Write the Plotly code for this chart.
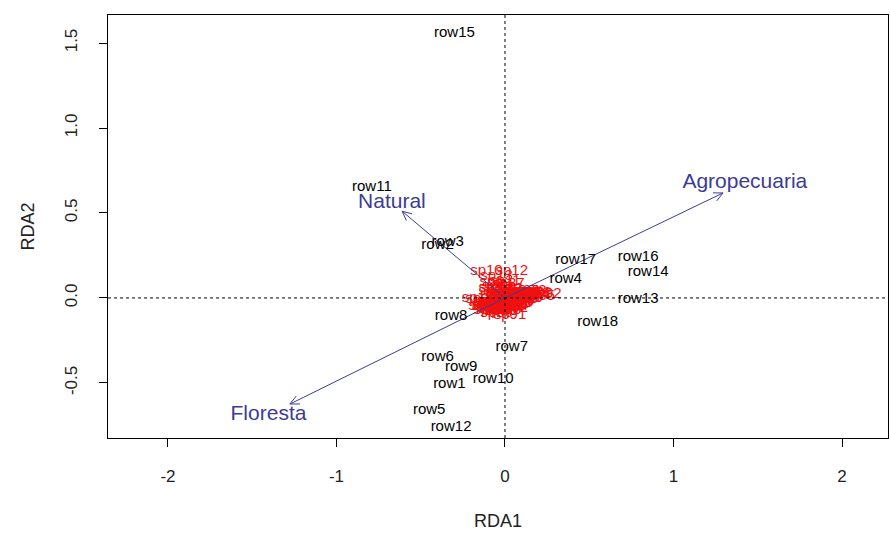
import numpy as np
import plotly.graph_objects as go

# Site scores (rows)
site_names = ["row1", "row2", "row3", "row4", "row5", "row6", "row7", "row8", "row9",
              "row10", "row11", "row12", "row13", "row14", "row15", "row16", "row17", "row18"]
site_x = [-0.33, -0.40, -0.34, 0.36, -0.45, -0.40, 0.04, -0.32, -0.26,
          -0.07, -0.79, -0.32, 0.79, 0.85, -0.30, 0.79, 0.42, 0.55]
site_y = [-0.51, 0.31, 0.33, 0.11, -0.66, -0.35, -0.29, -0.11, -0.41,
          -0.48, 0.65, -0.76, -0.01, 0.15, 1.56, 0.24, 0.22, -0.14]

# Species scores
sp_names = ["sp1", "sp2", "sp3", "sp4", "sp5", "sp6", "sp7", "sp8", "sp9", "sp10",
            "sp11", "sp12", "sp13", "sp14", "sp15", "sp16", "sp17", "sp18", "sp19", "sp20",
            "sp21", "sp22", "sp23", "sp24", "sp25", "sp26", "sp27", "sp28", "sp29", "sp30",
            "sp31", "sp32", "sp33", "sp34", "sp35", "sp36", "sp37", "sp38", "sp39", "sp40",
            "sp41", "sp42", "sp43", "sp44", "sp45", "sp46", "sp47", "sp48", "sp49", "sp50",
            "sp51", "sp52", "sp53", "sp54", "sp55", "sp56", "sp57", "sp58", "sp59", "sp60",
            "sp61", "sp62", "sp63", "sp64", "sp65", "sp66", "sp67", "sp68", "sp69", "sp70",
            "sp71", "sp72", "sp73", "sp74", "sp75", "sp76", "sp77", "sp78", "sp79", "sp80",
            "sp81", "sp82", "sp83", "sp84", "sp85", "sp86", "sp87", "sp88", "sp89", "sp90",
            "sp91", "sp92"]
sp_x = [0.02, 0.05, -0.05, 0.08, -0.08, -0.08, -0.02, 0.10, -0.12, -0.11,
        0.00, 0.04, -0.05, 0.06, -0.04, 0.12, -0.16, 0.01, -0.03, 0.07,
        -0.07, 0.09, -0.01, 0.17, -0.09, 0.04, -0.05, 0.11, -0.06, 0.06,
        -0.14, 0.02, 0.08, -0.02, 0.20, -0.06, 0.02, 0.10, -0.08, -0.04,
        0.05, 0.01, -0.10, 0.07, 0.12, -0.01, 0.09, -0.02, 0.14, -0.03,
        -0.07, 0.04, 0.06, -0.05, 0.00, 0.11, -0.09, 0.03, 0.08, -0.02,
        -0.04, 0.01, 0.05, -0.06, -0.09, -0.06, -0.03, 0.00, 0.03, 0.06,
        0.09, 0.12, 0.15, -0.07, -0.04, -0.01, 0.02, 0.05, 0.08, 0.11,
        -0.10, 0.18, 0.00, 0.04, 0.07, -0.05, -0.12, 0.10, 0.13, -0.03,
        0.03, 0.24]
sp_y = [-0.03, -0.01, -0.03, 0.01, -0.05, 0.09, -0.05, 0.02, -0.02, 0.16,
        0.10, 0.16, 0.13, -0.02, -0.04, 0.03, 0.00, -0.02, -0.03, 0.01,
        -0.06, 0.02, 0.03, 0.02, -0.04, -0.04, -0.07, 0.03, 0.04, 0.00,
        -0.01, -0.05, -0.01, 0.01, 0.01, 0.06, 0.08, 0.00, -0.03, -0.02,
        -0.03, 0.05, -0.05, 0.02, 0.02, -0.06, 0.00, -0.08, 0.03, 0.06,
        -0.02, -0.06, -0.03, 0.00, 0.02, 0.01, -0.03, 0.04, -0.02, 0.03,
        0.07, -0.04, 0.01, -0.02, -0.07, -0.06, -0.05, -0.04, -0.02, 0.00,
        0.01, 0.02, 0.04, -0.04, -0.03, -0.02, -0.01, 0.01, 0.03, 0.04,
        -0.04, 0.03, -0.07, -0.05, -0.03, -0.09, -0.05, -0.01, 0.00, -0.08,
        -0.10, 0.02]

# Biplot arrows (environmental variables)
env_names = ["Agropecuaria", "Floresta", "Natural"]
env_x = [1.294, -1.276, -0.61]
env_y = [0.618, -0.624, 0.51]
label_mult = 1.1

arrow_col = "#3c3c96"
FONT = "Liberation Sans, Arial"
fig = go.Figure()

# reference dotted lines at 0
fig.add_hline(y=0, line=dict(color="black", width=1, dash="dot"))
fig.add_vline(x=0, line=dict(color="black", width=1, dash="dot"))

# species labels
fig.add_trace(go.Scatter(x=sp_x, y=sp_y, mode="text", text=sp_names,
                         textfont=dict(family=FONT, size=15, color="#f01010"),
                         hoverinfo="skip", showlegend=False))

# arrows
ax_l, ay_l = [], []
for ex, ey in zip(env_x, env_y):
    ax_l += [0, ex, None]
    ay_l += [0, ey, None]
    ang = np.arctan2(ey, ex)
    hl = 0.06
    for d in (np.pi - 0.45, -(np.pi - 0.45)):
        ax_l += [ex, ex + hl * np.cos(ang + d), None]
        ay_l += [ey, ey + hl * np.sin(ang + d), None]
fig.add_trace(go.Scatter(x=ax_l, y=ay_l, mode="lines", line=dict(color=arrow_col, width=1),
                         hoverinfo="skip", showlegend=False))

# arrow labels
fig.add_trace(go.Scatter(x=[v * label_mult for v in env_x], y=[v * label_mult for v in env_y],
                         mode="text", text=env_names,
                         textfont=dict(family=FONT, size=21, color=arrow_col),
                         hoverinfo="skip", showlegend=False))

# site labels
fig.add_trace(go.Scatter(x=site_x, y=site_y, mode="text", text=site_names,
                         textfont=dict(family=FONT, size=15, color="black"),
                         hoverinfo="skip", showlegend=False))

tick_font = dict(family=FONT, size=17, color="#222222")
title_font = dict(family=FONT, size=18, color="#222222")
fig.update_layout(
    width=890, height=540,
    margin=dict(l=108, r=2, t=15, b=102),
    paper_bgcolor="white", plot_bgcolor="white",
    font=tick_font,
    xaxis=dict(range=[-2.356, 2.273], tickvals=[-2, -1, 0, 1, 2], ticktext=["-2", "-1", "0", "1", "2"],
               showgrid=False, zeroline=False, showline=True, linecolor="black", linewidth=1,
               mirror=True, ticks="outside", ticklen=8, tickcolor="black",
               ticklabelstandoff=15, tickfont=tick_font,
               title=dict(text="RDA1", font=title_font, standoff=28)),
    yaxis=dict(range=[-0.824, 1.665], tickvals=[-0.5, 0, 0.5, 1.0, 1.5],
               ticktext=["-0.5", "0.0", "0.5", "1.0", "1.5"], tickangle=-90,
               showgrid=False, zeroline=False, showline=True, linecolor="black", linewidth=1,
               mirror=True, ticks="outside", ticklen=8, tickcolor="black",
               ticklabelstandoff=15, tickfont=tick_font,
               title=dict(text="RDA2", font=title_font, standoff=22)),
)

fig.write_html("out.html")
